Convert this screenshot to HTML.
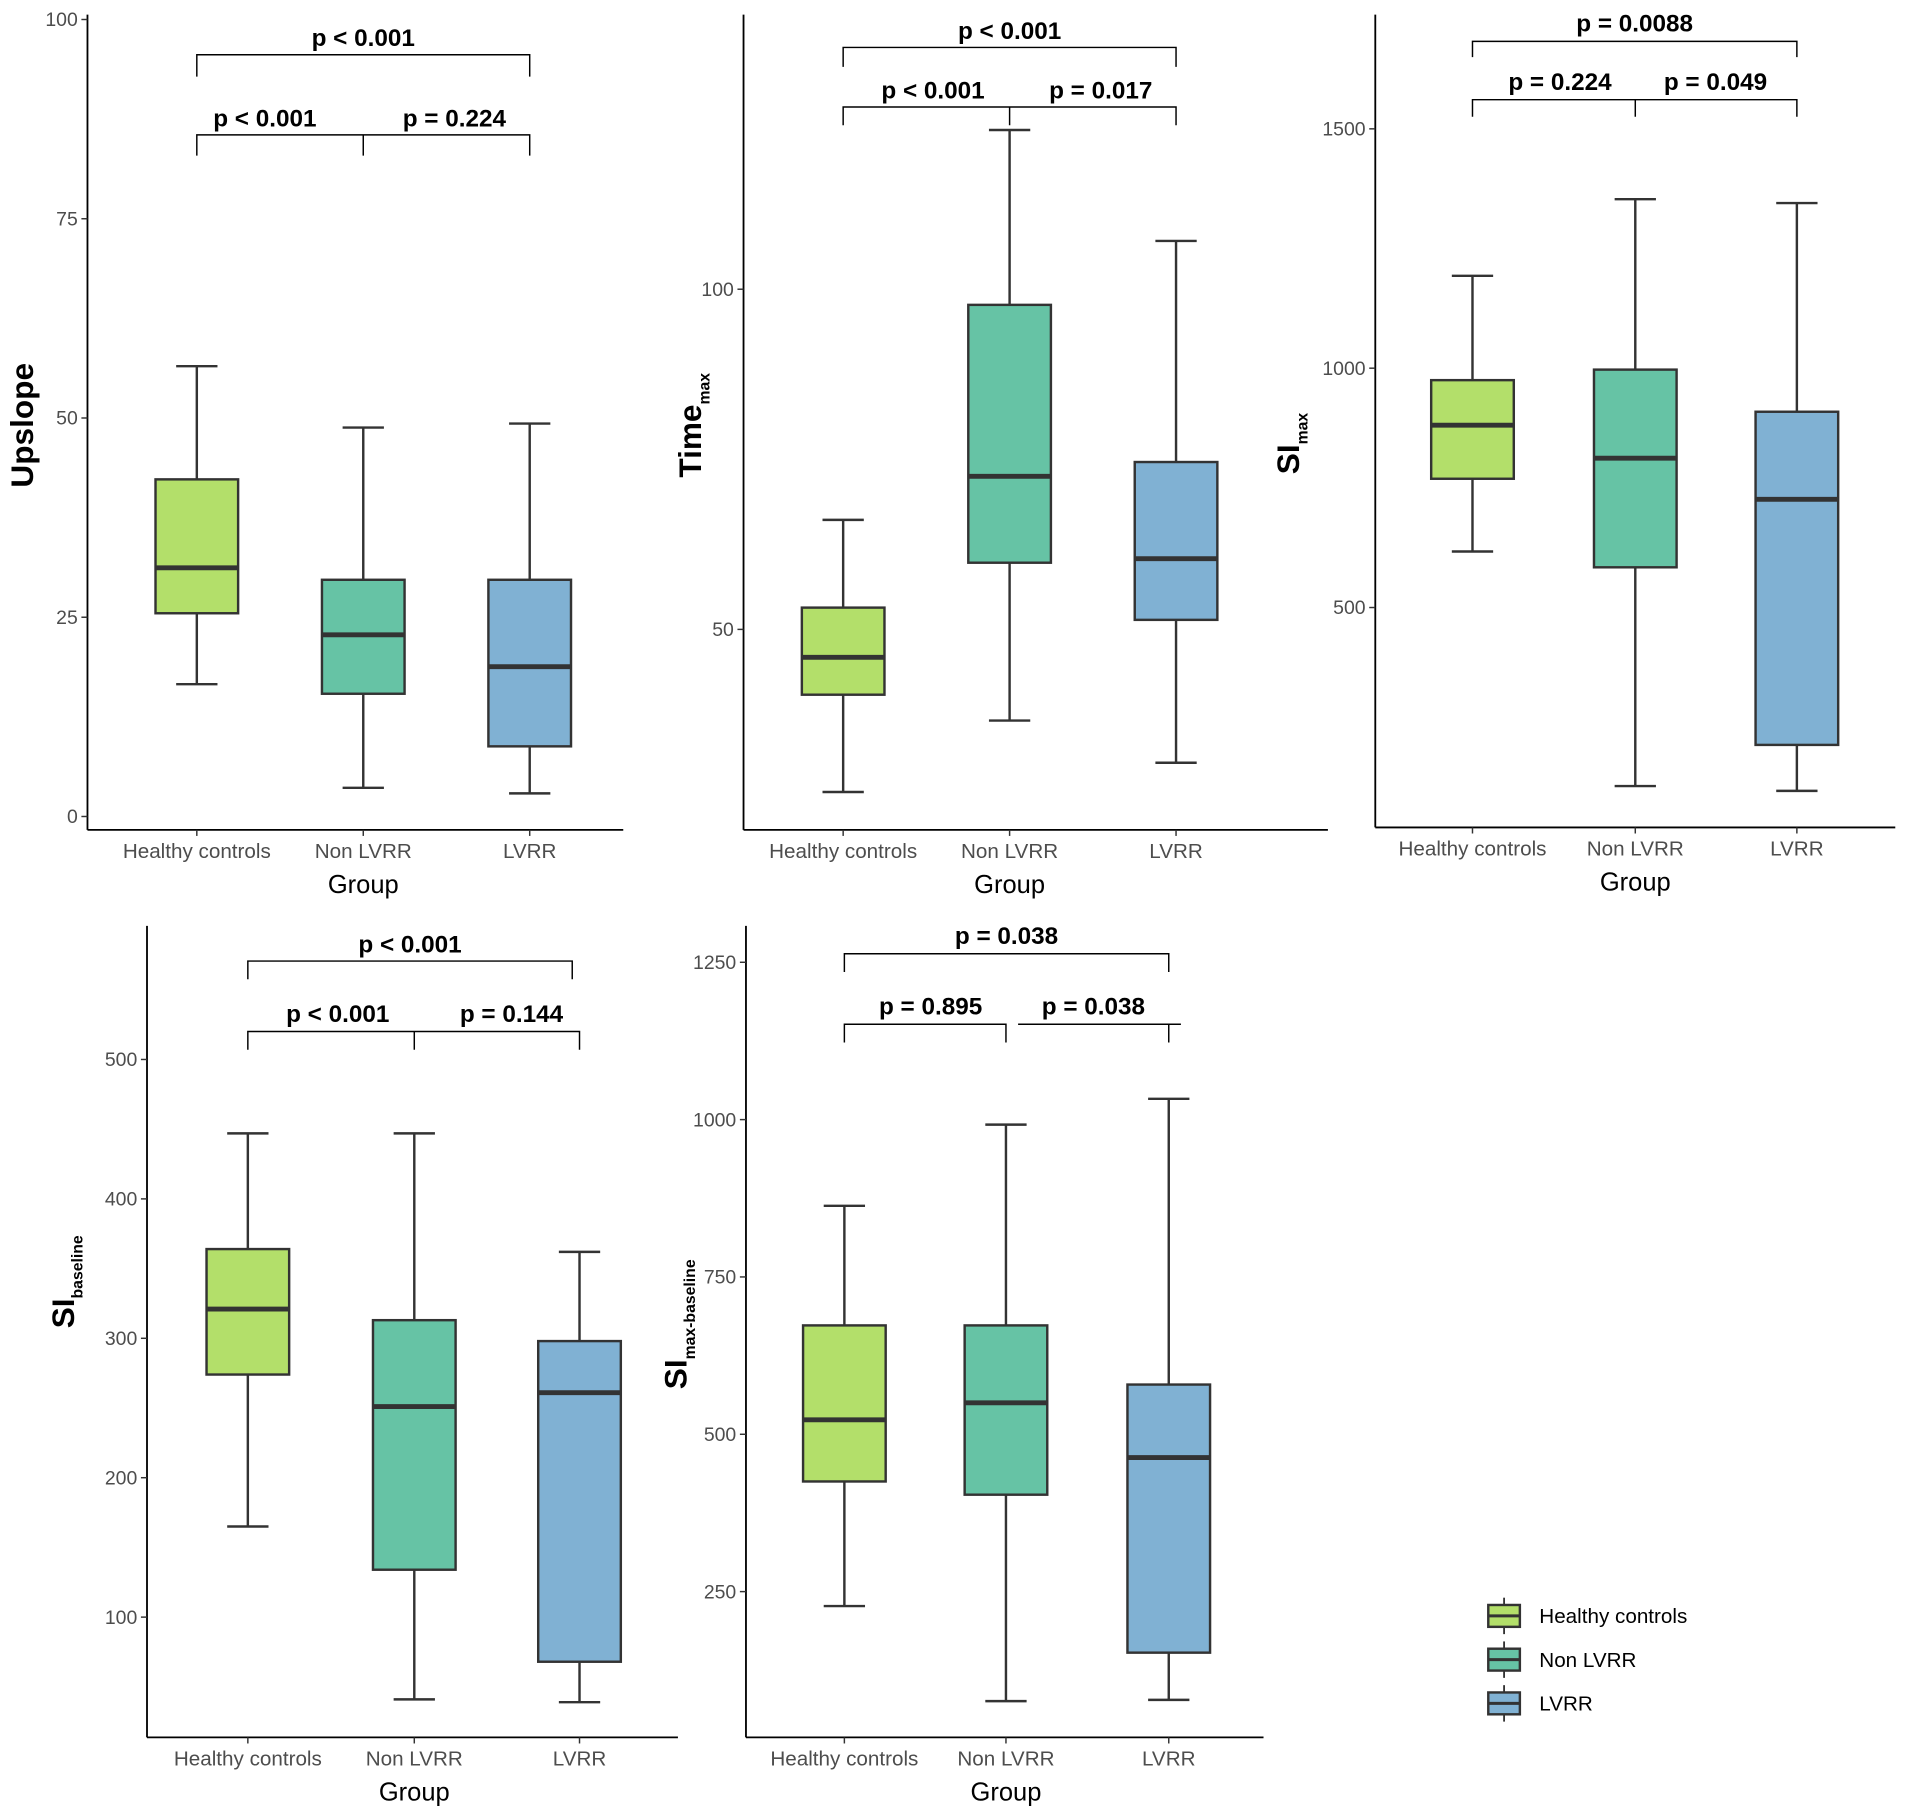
<!DOCTYPE html>
<html><head><meta charset="utf-8"><style>
html,body{margin:0;padding:0;background:#fff;}
svg{display:block;font-family:"Liberation Sans",Arial,sans-serif;}
</style></head><body>
<svg id="fig" width="1905" height="1814" viewBox="0 0 1568 1493" xmlns="http://www.w3.org/2000/svg"></svg>
<script>
const categories = ["Healthy controls","Non LVRR","LVRR"];
const colors = ["#b3df6a","#66c3a5","#80b1d3"];
// per-panel box stats: [lo, q1, med, q3, hi]
const upslopeStats = [[16.6,25.5,31.2,42.3,56.5],[3.6,15.4,22.8,29.7,48.8],[2.9,8.8,18.8,29.7,49.3]];
const timeStats = [[26.1,40.4,45.9,53.2,66.1],[36.6,59.8,72.5,97.7,123.4],[30.4,51.4,60.4,74.6,107.1]];
const simaxStats = [[617,769,881,975,1193],[127,584,812,997,1353],[117,213,726,909,1345]];
const sibaseStats = [[165,274,321,364,447],[41,134,251,313,447],[39,68,261,298,362]];
const sidiffStats = [[227,425,523,673,863],[76,404,550,673,992],[78,153,463,579,1033]];
const upslopeTicks = [0,25,50,75,100];
const timeTicks = [50,100];
const simaxTicks = [500,1000,1500];
const sibaseTicks = [100,200,300,400,500];
const sidiffTicks = [250,500,750,1000,1250];
const upslopeP = ["p < 0.001","p < 0.001","p = 0.224"];
const timeP = ["p < 0.001","p < 0.001","p = 0.017"];
const simaxP = ["p = 0.0088","p = 0.224","p = 0.049"];
const sibaseP = ["p < 0.001","p < 0.001","p = 0.144"];
const sidiffP = ["p = 0.038","p = 0.895","p = 0.038"];

const NS="http://www.w3.org/2000/svg";
const svg=document.getElementById('fig');
function mk(tag,attrs,parent,text){const e=document.createElementNS(NS,tag);for(const k in attrs)e.setAttribute(k,attrs[k]);if(text!==undefined)e.textContent=text;(parent||svg).appendChild(e);return e;}

const panels=[
 {name:'upslope',stats:upslopeStats,ticks:upslopeTicks,p:upslopeP,ax:72,top:12,bot:683,right:513,v0:0,y0:672,v1:100,y1:16,cx:[162,299,436],
  title:'Upslope',sub:'',tx:18,ty:350,tsize:26,
  br:{ty:45,tyd:63,tt:31,ly:111,lyd:128,lt:97,lx:[218,374],lsplit:false}},
 {name:'time-max',stats:timeStats,ticks:timeTicks,p:timeP,ax:612,top:12,bot:683,right:1093,v0:50,y0:518,v1:100,y1:238,cx:[694,831,968],
  title:'Time',sub:'max',tx:568,ty:350,tsize:26,
  br:{ty:39,tyd:55,tt:25,ly:88,lyd:103,lt:74,lx:[768,906],lsplit:false}},
 {name:'si-max',stats:simaxStats,ticks:simaxTicks,p:simaxP,ax:1132,top:12,bot:681,right:1560,v0:500,y0:500,v1:1500,y1:106,cx:[1212,1346,1479],
  title:'SI',sub:'max',tx:1060,ty:365,tsize:26,
  br:{ty:34,tyd:47,tt:19,ly:82,lyd:96,lt:67,lx:[1284,1412],lsplit:false}},
 {name:'si-baseline',stats:sibaseStats,ticks:sibaseTicks,p:sibaseP,ax:121,top:762,bot:1430,right:558,v0:100,y0:1331,v1:500,y1:872,cx:[204,341,477],
  title:'SI',sub:'baseline',tx:52,ty:1055,tsize:26,
  br:{ty:791,tyd:806,tt:777,ly:849,lyd:864,lt:834,lx:[278,421],lsplit:false,topRight:471}},
 {name:'si-max-baseline',stats:sidiffStats,ticks:sidiffTicks,p:sidiffP,ax:614,top:762,bot:1430,right:1040,v0:250,y0:1310,v1:1250,y1:792,cx:[695,828,962],
  title:'SI',sub:'max-baseline',tx:556,ty:1090,tsize:26,
  br:{ty:785,tyd:800,tt:770,ly:843,lyd:858,lt:828,lx:[766,900],lsplit:true}}
];

panels.forEach(P=>{
  const g=mk('g',{});
  
  
  const y=v=>P.y0+(v-P.v0)*(P.y1-P.y0)/(P.v1-P.v0);
  const ya=mk('line',{x1:P.ax,y1:P.top,x2:P.ax,y2:P.bot,stroke:'#000','stroke-width':1.5},g);
  
  
  const xa=mk('line',{x1:P.ax,y1:P.bot,x2:P.right,y2:P.bot,stroke:'#000','stroke-width':1.5},g);
  
  
  P.ticks.forEach(t=>{
    const yy=y(t);
    mk('line',{x1:P.ax-5,y1:yy,x2:P.ax,y2:yy,stroke:'#333','stroke-width':1.2},g);
    const tl=mk('text',{x:P.ax-8,y:yy+5.5,'text-anchor':'end','font-size':16,fill:'#4d4d4d'},g,String(t));
    
    
  });
  categories.forEach((c,i)=>{
    const x=P.cx[i];
    mk('line',{x1:x,y1:P.bot,x2:x,y2:P.bot+5,stroke:'#333','stroke-width':1.2},g);
    const xl=mk('text',{x:x,y:P.bot+23,'text-anchor':'middle','font-size':17,fill:'#4d4d4d'},g,c);
    
    
    const s=P.stats[i], hw=34;
    const bg=mk('g',{},g);
    
    
    mk('line',{x1:x,y1:y(s[0]),x2:x,y2:y(s[1]),stroke:'#333','stroke-width':2},bg);
    mk('line',{x1:x,y1:y(s[3]),x2:x,y2:y(s[4]),stroke:'#333','stroke-width':2},bg);
    mk('line',{x1:x-hw/2,y1:y(s[0]),x2:x+hw/2,y2:y(s[0]),stroke:'#333','stroke-width':2},bg);
    mk('line',{x1:x-hw/2,y1:y(s[4]),x2:x+hw/2,y2:y(s[4]),stroke:'#333','stroke-width':2},bg);
    mk('rect',{x:x-hw,y:y(s[3]),width:hw*2,height:y(s[1])-y(s[3]),fill:colors[i],stroke:'#333','stroke-width':2},bg);
    mk('line',{x1:x-hw,y1:y(s[2]),x2:x+hw,y2:y(s[2]),stroke:'#333','stroke-width':4},bg);
  });
  const xt=mk('text',{x:P.cx[1],y:P.bot+52,'text-anchor':'middle','font-size':21,fill:'#000'},g,'Group');
  
  
  const yt=mk('text',{x:0,y:0,transform:`translate(${P.tx+9},${P.ty}) rotate(-90)`,'text-anchor':'middle','font-size':P.tsize,fill:'#000','font-weight':'bold'},g);
  
  
  mk('tspan',{},yt,P.title);
  if(P.sub) mk('tspan',{'font-size':13,dy:7},yt,P.sub);
  const B=P.br, c0=P.cx[0], c1=P.cx[1], c2=P.cx[2], tr=B.topRight||c2;
  const bs={fill:'none',stroke:'#000','stroke-width':1.2};
  mk('path',Object.assign({d:`M${c0},${B.tyd}V${B.ty}H${tr}V${B.tyd}`},bs),g);
  if(B.lsplit){
    mk('path',Object.assign({d:`M${c0},${B.lyd}V${B.ly}H${c1}V${B.lyd}`},bs),g);
    mk('path',Object.assign({d:`M${c1+10},${B.ly}H${c2+10}M${c2},${B.ly}V${B.lyd}`},bs),g);
  } else {
    mk('path',Object.assign({d:`M${c0},${B.lyd}V${B.ly}H${c2}V${B.lyd}M${c1},${B.ly}V${B.lyd}`},bs),g);
  }
  const ps=[[(c0+tr)/2,B.tt+7],[B.lx[0],B.lt+7],[B.lx[1],B.lt+7]];
  P.p.forEach((t,k)=>{
    const pt=mk('text',{x:ps[k][0],y:ps[k][1],'text-anchor':'middle','font-size':20,'font-weight':'bold',fill:'#000'},g,t);
    
    
  });
});

const lg=mk('g',{});


categories.forEach((c,i)=>{
  const yc=1330+i*36;
  const e=mk('g',{},lg);
  
  
  mk('line',{x1:1238,y1:yc-15,x2:1238,y2:yc+15,stroke:'#333','stroke-width':1.5},e);
  mk('rect',{x:1225,y:yc-9,width:26,height:18,fill:colors[i],stroke:'#333','stroke-width':2},e);
  mk('line',{x1:1225,y1:yc,x2:1251,y2:yc,stroke:'#333','stroke-width':2.5},e);
  mk('text',{x:1267,y:yc+6,'font-size':17,fill:'#000'},e,c);
});
</script>
</body></html>
